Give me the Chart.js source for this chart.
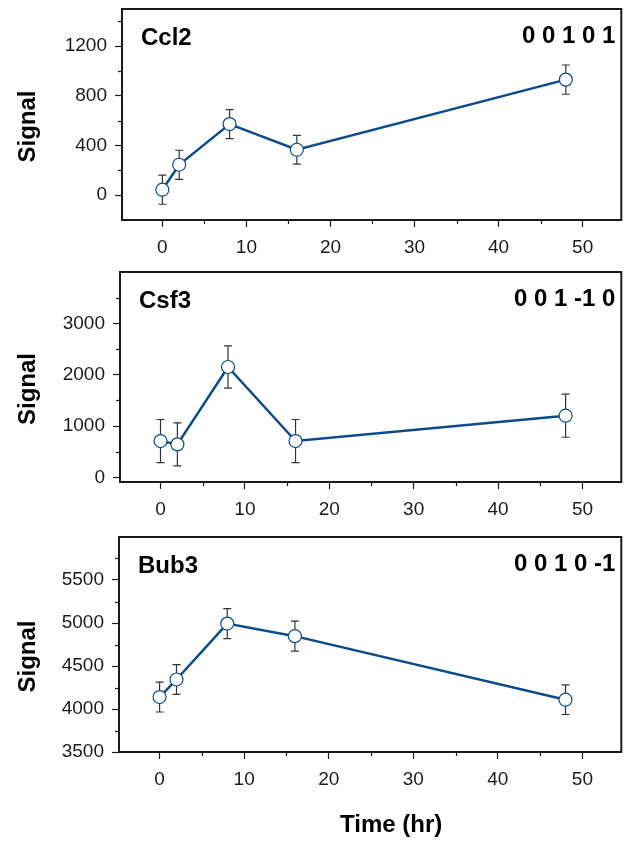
<!DOCTYPE html>
<html>
<head>
<meta charset="utf-8">
<script src="https://cdn.jsdelivr.net/npm/chart.js@4.4.1/dist/chart.umd.min.js"></script>
<style>
    html, body { margin: 0; padding: 0; background: #fff; }
    #page { position: relative; width: 629px; height: 842px; overflow: hidden; }
    .panel { position: absolute; left: 0; width: 629px; }
</style>
</head>
<body>
<div id="page">
    <div class="panel" style="top:0;height:260px"><canvas id="ccl2"></canvas></div>
    <div class="panel" style="top:262px;height:260px"><canvas id="csf3"></canvas></div>
    <div class="panel" style="top:527px;height:315px"><canvas id="bub3"></canvas></div>
</div>
<script>
// Time points (hr) shared by all three genes
const TIMES = [0, 2, 8, 16, 48];
const X_TICKS = [0, 10, 20, 30, 40, 50];
const X_MIN = -4.8, X_MAX = 54.6;

// Ccl2
const CCL2 = [44, 245, 573, 366, 931];
const CCL2_ERR = [117, 117, 117, 116, 118];
const CCL2_TICKS = [0, 400, 800, 1200];

// Csf3
const CSF3 = [708, 643, 2150, 708, 1201];
const CSF3_ERR = [419, 420, 412, 419, 419];
const CSF3_TICKS = [0, 1000, 2000, 3000];

// Bub3
const BUB3 = [4139, 4343, 4993, 4847, 4108];
const BUB3_ERR = [174, 172, 174, 174, 172];
const BUB3_TICKS = [3500, 4000, 4500, 5000, 5500];

const BLUE = "#0b4a8b";
const INK = "#1a1a1a";
const FONT = "'Liberation Sans', Arial, Helvetica, sans-serif";

// Black frame round the plot area.
const boxPlugin = {
    id: "box",
    afterDraw(chart) {
        const { ctx, chartArea: a } = chart;
        ctx.save();
        ctx.strokeStyle = INK;
        ctx.lineWidth = 2;
        ctx.strokeRect(a.left, a.top, a.right - a.left, a.bottom - a.top);
        ctx.restore();
    },
};

// Short unlabeled ticks half way between the labelled ones.
const minorTickPlugin = {
    id: "minorTicks",
    afterDraw(chart) {
        const { ctx, chartArea: a, scales } = chart;
        ctx.save();
        ctx.strokeStyle = INK;
        ctx.lineWidth = 1.2;
        for (const key of ["x", "y"]) {
            const s = scales[key];
            const vals = s.ticks.map(t => t.value);
            const half = (vals[1] - vals[0]) / 2;
            const minors = vals.map(v => v + half).concat([vals[0] - half])
                .filter(v => v > s.min && v < s.max);
            for (const v of minors) {
                const p = Math.round(s.getPixelForValue(v)) + 0.5;
                ctx.beginPath();
                if (key === "y") {
                    ctx.moveTo(a.left - 4, p);
                    ctx.lineTo(a.left, p);
                } else {
                    ctx.moveTo(p, a.bottom);
                    ctx.lineTo(p, a.bottom + 4);
                }
                ctx.stroke();
            }
        }
        ctx.restore();
    },
};

// Capped error bars, drawn under the markers.
const errorBarPlugin = {
    id: "errorBars",
    beforeDatasetsDraw(chart) {
        const { ctx, scales: { x, y } } = chart;
        ctx.save();
        ctx.strokeStyle = "#333";
        ctx.lineWidth = 1.2;
        chart.data.datasets.forEach(ds => {
            ds.data.forEach((pt, i) => {
                const e = ds.errors[i];
                const px = x.getPixelForValue(pt.x);
                const top = y.getPixelForValue(pt.y + e);
                const bot = y.getPixelForValue(pt.y - e);
                ctx.beginPath();
                ctx.moveTo(px, top); ctx.lineTo(px, bot);
                ctx.moveTo(px - 4, top); ctx.lineTo(px + 4, top);
                ctx.moveTo(px - 4, bot); ctx.lineTo(px + 4, bot);
                ctx.stroke();
            });
        });
        ctx.restore();
    },
};

// Gene name, pattern code and axis titles.
const decoPlugin = {
    id: "deco",
    afterDraw(chart, args, opts) {
        const { ctx, chartArea: a } = chart;
        ctx.save();
        ctx.fillStyle = "#000";
        ctx.font = `bold 24px ${FONT}`;
        ctx.textBaseline = "alphabetic";
        ctx.textAlign = "left";
        ctx.fillText(opts.gene, a.left + 19, a.top + 36);
        ctx.textAlign = "right";
        ctx.fillText(opts.code, a.right - 6, a.top + 34);

        ctx.textAlign = "center";
        ctx.textBaseline = "middle";
        ctx.save();
        ctx.translate(28, (a.top + a.bottom) / 2 + 12);
        ctx.rotate(-Math.PI / 2);
        ctx.fillText("Signal", 0, 0);
        ctx.restore();

        if (opts.xTitle) {
            ctx.fillText("Time (hr)", (a.left + a.right) / 2 + 21, a.bottom + 73);
        }
        ctx.restore();
    },
};

// Drop the label-overflow margins Chart.js adds so the frame lands where we put it.
function noEdgePadding(s) {
    s.paddingTop = 0;
    s.paddingBottom = 0;
    s.paddingLeft = 0;
    s.paddingRight = 0;
}

function makePanel(id, gene, code, values, errors, yTicks, yMin, yMax, lay) {
    const tickFont = { family: FONT, size: 19 };
    const grid = { drawOnChartArea: false, tickLength: 7, tickColor: INK, tickWidth: 1.2 };
    return new Chart(document.getElementById(id), {
        type: "line",
        data: {
            datasets: [{
                data: TIMES.map((t, i) => ({ x: t, y: values[i] })),
                errors,
                borderColor: BLUE,
                borderWidth: 2.5,
                pointRadius: 6.5,
                pointBackgroundColor: "#fff",
                pointBorderColor: BLUE,
                pointBorderWidth: 1.2,
                tension: 0,
            }],
        },
        options: {
            animation: false,
            responsive: true,
            maintainAspectRatio: false,
            layout: { padding: { top: lay.top, right: 2, left: 0, bottom: 0 } },
            plugins: {
                legend: { display: false },
                tooltip: { enabled: false },
                deco: { gene, code, xTitle: lay.xTitle },
            },
            scales: {
                x: {
                    type: "linear",
                    min: X_MIN,
                    max: X_MAX,
                    afterBuildTicks: s => { s.ticks = X_TICKS.map(v => ({ value: v })); },
                    afterFit: s => { s.height = lay.xAxis; noEdgePadding(s); },
                    grid,
                    border: { display: false },
                    ticks: {
                        font: tickFont, color: INK, padding: 9, maxRotation: 0, autoSkip: false,
                        callback: v => String(v),
                    },
                },
                y: {
                    min: yMin,
                    max: yMax,
                    afterBuildTicks: s => { s.ticks = yTicks.map(v => ({ value: v })); },
                    afterFit: s => { s.width = lay.yAxis; noEdgePadding(s); },
                    grid,
                    border: { display: false },
                    ticks: {
                        font: tickFont, color: INK, padding: 8, autoSkip: false,
                        callback: v => String(v),
                    },
                },
            },
        },
        plugins: [errorBarPlugin, boxPlugin, minorTickPlugin, decoPlugin],
    });
}

makePanel("ccl2", "Ccl2", "0 0 1 0 1", CCL2, CCL2_ERR, CCL2_TICKS, -200, 1500,
    { top: 9, xAxis: 40, yAxis: 122 });
makePanel("csf3", "Csf3", "0 0 1 -1 0", CSF3, CSF3_ERR, CSF3_TICKS, -90, 4000,
    { top: 10, xAxis: 40, yAxis: 120 });
makePanel("bub3", "Bub3", "0 0 1 0 -1", BUB3, BUB3_ERR, BUB3_TICKS, 3500, 6000,
    { top: 10, xAxis: 90, yAxis: 119, xTitle: true });
</script>
</body>
</html>
